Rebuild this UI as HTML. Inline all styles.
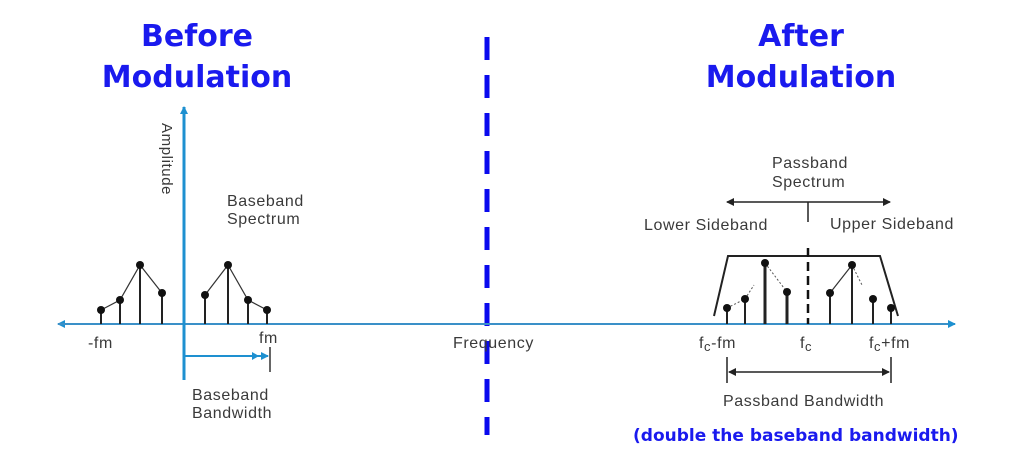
<!DOCTYPE html>
<html><head><meta charset="utf-8"><style>
html,body{margin:0;padding:0;background:#fff;}
svg{display:block;}
.t{font-family:"Liberation Sans",sans-serif;font-size:16px;letter-spacing:0.6px;fill:#3a3a3a;}
.h{font-family:"Comic Sans MS","DejaVu Sans",sans-serif;font-weight:bold;font-size:30px;fill:#1a1aee;}
</style></head><body>
<svg width="1024" height="466" viewBox="0 0 1024 466" xmlns="http://www.w3.org/2000/svg">
<defs>
<marker id="ab" markerWidth="8" markerHeight="8" refX="7" refY="4" orient="auto" markerUnits="userSpaceOnUse"><path d="M0,0 L8,4 L0,8 z" fill="#1e90d0"/></marker>
<marker id="ak" markerWidth="8" markerHeight="8" refX="7" refY="4" orient="auto-start-reverse" markerUnits="userSpaceOnUse"><path d="M0,0 L8,4 L0,8 z" fill="#222"/></marker>
</defs>
<text class="h" x="197" y="46" text-anchor="middle">Before</text>
<text class="h" x="197" y="87" text-anchor="middle">Modulation</text>
<text class="h" x="801" y="46" text-anchor="middle">After</text>
<text class="h" x="801" y="87" text-anchor="middle">Modulation</text>
<line x1="487" y1="37" x2="487" y2="435" stroke="#0a0aee" stroke-width="5" stroke-dasharray="23 15"/>
<line x1="950" y1="324" x2="58" y2="324" stroke="#3a90c8" stroke-width="2" marker-end="url(#ab)"/>
<line x1="58" y1="324" x2="955" y2="324" stroke="#3a90c8" stroke-width="2" marker-end="url(#ab)"/>
<line x1="184" y1="380" x2="184" y2="107" stroke="#1e90d0" stroke-width="3" marker-end="url(#ab)"/>
<text class="t" transform="translate(162,123) rotate(90)" style="font-size:15px">Amplitude</text>
<text class="t" x="227" y="206">Baseband</text>
<text class="t" x="227" y="224">Spectrum</text>
<g stroke="#222" stroke-width="2">
<line x1="101" y1="324" x2="101" y2="310"/><line x1="120" y1="324" x2="120" y2="300"/>
<line x1="140" y1="324" x2="140" y2="265"/><line x1="162" y1="324" x2="162" y2="293"/>
<line x1="205" y1="324" x2="205" y2="295"/><line x1="228" y1="324" x2="228" y2="265"/>
<line x1="248" y1="324" x2="248" y2="300"/><line x1="267" y1="324" x2="267" y2="310"/>
</g>
<polyline points="101,310 120,300 140,265 162,293" fill="none" stroke="#333" stroke-width="1.2"/>
<polyline points="205,295 228,265 248,300 267,310" fill="none" stroke="#333" stroke-width="1.2"/>
<g fill="#111">
<circle cx="101" cy="310" r="4"/><circle cx="120" cy="300" r="4"/><circle cx="140" cy="265" r="4"/><circle cx="162" cy="293" r="4"/>
<circle cx="205" cy="295" r="4"/><circle cx="228" cy="265" r="4"/><circle cx="248" cy="300" r="4"/><circle cx="267" cy="310" r="4"/>
</g>
<text class="t" x="88" y="348">-fm</text>
<text class="t" x="259" y="343">fm</text>
<line x1="270" y1="347" x2="270" y2="372" stroke="#333" stroke-width="1.5"/>
<line x1="185" y1="356" x2="268" y2="356" stroke="#1e90d0" stroke-width="2" marker-end="url(#ab)"/>
<path d="M252,352 L259,356 L252,360z" fill="#1e90d0"/>
<text class="t" x="192" y="400">Baseband</text>
<text class="t" x="192" y="418">Bandwidth</text>
<text class="t" x="453" y="348">Frequency</text>
<text class="t" x="772" y="168">Passband</text>
<text class="t" x="772" y="187">Spectrum</text>
<line x1="727" y1="202" x2="890" y2="202" stroke="#222" stroke-width="1.5" marker-start="url(#ak)" marker-end="url(#ak)"/>
<line x1="808" y1="202" x2="808" y2="222" stroke="#222" stroke-width="1.5"/>
<text class="t" x="644" y="230">Lower Sideband</text>
<text class="t" x="830" y="229">Upper Sideband</text>
<polyline points="714,316 728,256 880,256 898,316" fill="none" stroke="#222" stroke-width="2"/>
<line x1="808" y1="248" x2="808" y2="324" stroke="#111" stroke-width="2.5" stroke-dasharray="9 5"/>
<g stroke="#222" stroke-width="2">
<line x1="727" y1="324" x2="727" y2="308"/><line x1="745" y1="324" x2="745" y2="299"/>
<line x1="765" y1="324" x2="765" y2="263" stroke-width="3"/><line x1="787" y1="324" x2="787" y2="292" stroke-width="3"/>
<line x1="830" y1="324" x2="830" y2="293"/><line x1="852" y1="324" x2="852" y2="265"/>
<line x1="873" y1="324" x2="873" y2="299"/><line x1="891" y1="324" x2="891" y2="308"/>
</g>
<polyline points="727,308 745,299 754,285" fill="none" stroke="#555" stroke-width="1" stroke-dasharray="2 2"/>
<polyline points="765,263 787,292" fill="none" stroke="#555" stroke-width="1" stroke-dasharray="2 2"/>
<polyline points="830,293 852,265" fill="none" stroke="#333" stroke-width="1.2"/>
<polyline points="852,265 862,285 M873,299 891,308" fill="none" stroke="#555" stroke-width="1" stroke-dasharray="2 2"/>
<g fill="#111">
<circle cx="727" cy="308" r="4"/><circle cx="745" cy="299" r="4"/><circle cx="765" cy="263" r="4"/><circle cx="787" cy="292" r="4"/>
<circle cx="830" cy="293" r="4"/><circle cx="852" cy="265" r="4"/><circle cx="873" cy="299" r="4"/><circle cx="891" cy="308" r="4"/>
</g>
<text class="t" x="699" y="348">f<tspan font-size="13" dy="3">c</tspan><tspan dy="-3">-fm</tspan></text>
<text class="t" x="800" y="348">f<tspan font-size="13" dy="3">c</tspan></text>
<text class="t" x="869" y="348">f<tspan font-size="13" dy="3">c</tspan><tspan dy="-3">+fm</tspan></text>
<line x1="727" y1="357" x2="727" y2="383" stroke="#222" stroke-width="1.5"/>
<line x1="891" y1="357" x2="891" y2="383" stroke="#222" stroke-width="1.5"/>
<line x1="729" y1="372" x2="889" y2="372" stroke="#222" stroke-width="1.5" marker-start="url(#ak)" marker-end="url(#ak)"/>
<text class="t" x="723" y="406">Passband Bandwidth</text>
<text x="633" y="441" font-family="'Comic Sans MS','DejaVu Sans',sans-serif" font-weight="bold" font-size="17" fill="#1a1aee">(double the baseband bandwidth)</text>
</svg>
</body></html>
